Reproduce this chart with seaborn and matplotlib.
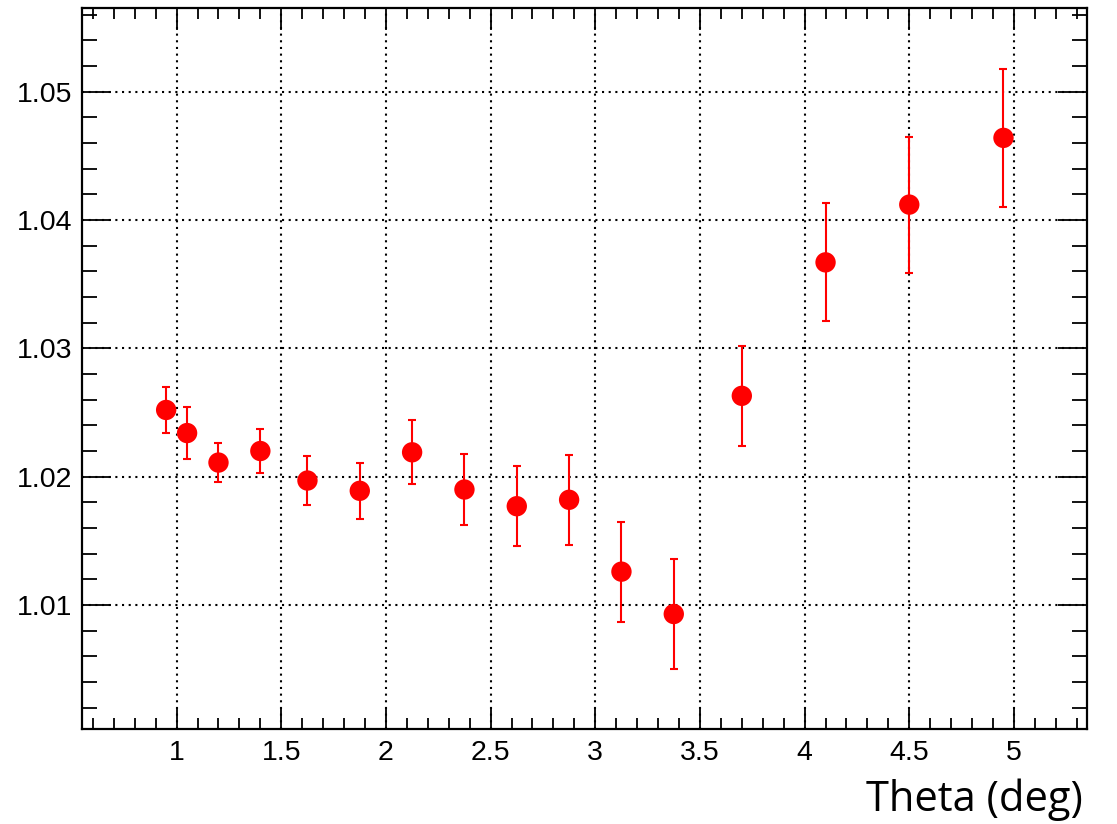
import numpy as np
import pandas as pd
import matplotlib
matplotlib.use("Agg")
import matplotlib.pyplot as plt
import seaborn as sns
from matplotlib.ticker import MultipleLocator, FixedLocator, FixedFormatter

theta = [0.95, 1.05, 1.20, 1.40, 1.625, 1.875, 2.125, 2.375, 2.625, 2.875,
         3.125, 3.375, 3.70, 4.10, 4.50, 4.95]
ratio = [1.0252, 1.0234, 1.0211, 1.0220, 1.0197, 1.0189, 1.0219, 1.0190,
         1.0177, 1.0182, 1.0126, 1.0093, 1.0263, 1.0367, 1.0412, 1.0464]
err = [0.0018, 0.0020, 0.0015, 0.0017, 0.0019, 0.0022, 0.0025, 0.0028,
       0.0031, 0.0035, 0.0039, 0.0043, 0.0039, 0.0046, 0.0053, 0.0054]

x_ticks = [1, 1.5, 2, 2.5, 3, 3.5, 4, 4.5, 5]
x_labels = ["1", "1.5", "2", "2.5", "3", "3.5", "4", "4.5", "5"]
y_ticks = [1.01, 1.02, 1.03, 1.04, 1.05]
y_labels = ["1.01", "1.02", "1.03", "1.04", "1.05"]

df = pd.DataFrame({"theta": theta, "ratio": ratio, "err": err})

sns.set_theme(style="ticks")
plt.rcParams["font.family"] = ["Liberation Sans", "DejaVu Sans"]

fig = plt.figure(figsize=(11.17, 8.24), dpi=100)
ax = fig.add_axes([82 / 1117, 95 / 824, 1005 / 1117, 721 / 824])

ax.errorbar(df["theta"], df["ratio"], yerr=df["err"], fmt="none",
            ecolor="#ff0000", elinewidth=1.5, capsize=3, capthick=1.5, zorder=3)
sns.scatterplot(data=df, x="theta", y="ratio", ax=ax, color="#ff0000",
                s=215, edgecolor="none", zorder=4, legend=False)

ax.set_xlim(0.548, 5.349)
ax.set_ylim(1.00034, 1.05652)

ax.xaxis.set_major_locator(FixedLocator(x_ticks))
ax.xaxis.set_major_formatter(FixedFormatter(x_labels))
ax.xaxis.set_minor_locator(MultipleLocator(0.1))
ax.yaxis.set_major_locator(FixedLocator(y_ticks))
ax.yaxis.set_major_formatter(FixedFormatter(y_labels))
ax.yaxis.set_minor_locator(MultipleLocator(0.002))

ax.tick_params(axis="both", which="both", direction="in", top=True, right=True,
               color="black", width=1.3, labelsize=20.5, labelcolor="black")
ax.tick_params(axis="x", which="major", length=16, pad=8)
ax.tick_params(axis="x", which="minor", length=8)
ax.tick_params(axis="y", which="major", length=21, pad=7)
ax.tick_params(axis="y", which="minor", length=11)

ax.grid(True, which="major", color="black", linestyle=(0, (1, 2.2)), linewidth=1.5)
ax.set_axisbelow(True)

for sp in ax.spines.values():
    sp.set_visible(True)
    sp.set_color("black")
    sp.set_linewidth(1.6)

ax.set_ylabel("")
ax.set_xlabel("")
fig.text(1083 / 1117, 1 - 811 / 824, "Theta (deg)", ha="right", va="baseline",
         fontsize=30, family=["Open Sans", "DejaVu Sans"], color="black")

fig.savefig("out.png", dpi=100, facecolor="white")
